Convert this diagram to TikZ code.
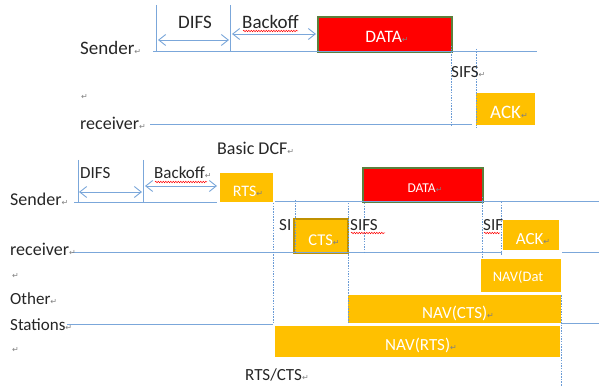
\documentclass[tikz,border=0pt]{standalone}
\usepackage{fontspec}
\setmainfont{Carlito}
\newfontfamily\pmfont{DejaVu Sans}
\usetikzlibrary{arrows.meta,decorations.pathmorphing}
\definecolor{tl}{HTML}{7BA7DA}
\definecolor{dotc}{HTML}{6A9BD6}
\definecolor{dred}{HTML}{FF0000}
\definecolor{dgreen}{HTML}{5A7F3C}
\definecolor{amber}{HTML}{FFC000}
\definecolor{amberdk}{HTML}{BF9000}
\definecolor{pmgray}{HTML}{808080}
\newcommand\fsz[1]{\fontsize{#1}{#1}\selectfont}
\newcommand\pmk{{\pmfont\fontsize{8}{8}\selectfont\textcolor{pmgray}{↵}}}
\tikzset{
  lbl/.style={inner sep=0pt, anchor=west, font=\fsz{18}, text=black!85},
  tline/.style={draw=tl, line width=1pt},
  dotl/.style={draw=dotc, line width=0.9pt, dash pattern=on 1.5pt off 1.2pt},
  dblarr/.style={draw=tl, line width=0.9pt, {Straight Barb[length=7pt,width=11pt]}-{Straight Barb[length=7pt,width=11pt]}},
  squig/.style={draw=red, line width=0.5pt, decorate, decoration={snake, amplitude=0.7pt, segment length=2.5pt}},
  redbox/.style={fill=dred, draw=dgreen, line width=1.2pt},
  ambox/.style={fill=amber, draw=none},
  btxt/.style={inner sep=0pt, text=white},
}
\begin{document}
\begin{tikzpicture}[x=1pt,y=-1pt]
\useasboundingbox (0,0) rectangle (599,387);
% ================= Basic DCF =================
% boxes
\fill[redbox] (318,17) rectangle (452,52);
\node[btxt, font=\fsz{17.5}] (tdata) at (387,37) {DATA\pmk};
\fill[ambox] (476,93) rectangle (535,125);
\node[btxt, font=\fsz{19}] (tack) at (509,112) {ACK\pmk};
% timelines
\draw[tline] (156,5) -- (156,52);
\draw[tline] (230,5) -- (230,52);
\draw[tline] (153,52) -- (537,52);
\draw[tline] (150,125) -- (472,125);
\draw[dblarr] (158,40) -- (229,40);
\draw[dblarr] (232,34) -- (316,34);
\draw[dotl] (451,46) -- (451,127);
\draw[dotl] (476,49) -- (476,128);
% labels
\node[lbl, font=\fsz{19}] (tdifs) at (178,22) {DIFS};
\node[lbl, font=\fsz{19}] (tback) at (242,22) {Backoff};
\draw[squig] (243,31) -- (298,31);
\node[lbl, font=\fsz{17}] (tsifs) at (451,72) {SIFS\pmk};
\node[lbl, font=\fsz{19}] (tsend) at (80,48) {Sender\pmk};
\node[lbl] (tpm) at (81,97) {\pmk};
\node[lbl] (trecv) at (80,123) {receiver\pmk};
\node[lbl] (tbasic) at (217,148) {Basic DCF\pmk};
% ================= RTS/CTS =================
\fill[ambox] (220,173) rectangle (273,202);
\node[btxt, font=\fsz{16}] (brts) at (248,191) {RTS\pmk};
\fill[redbox] (363,168) rectangle (483,202);
\node[btxt, font=\fsz{13.5}] (bdata) at (425,188) {DATA\pmk};
\fill[ambox, draw=amberdk, line width=1.4pt] (294,219) rectangle (348,253);
\node[btxt, font=\fsz{16.5}] (bcts) at (324,240) {CTS\pmk};
\fill[ambox] (503,220) rectangle (559,250);
\node[btxt, font=\fsz{17}] (back) at (533,239) {ACK\pmk};
\fill[ambox] (481,259) rectangle (561,292);
\node[btxt, font=\fsz{14.5}] (bnavd) at (518,277) {NAV(Dat};
\fill[ambox] (348,295) rectangle (561,323);
\node[btxt, font=\fsz{17}] (bnavc) at (458,313) {NAV(CTS)\pmk};
\fill[ambox] (275,326) rectangle (560,357);
\node[btxt, font=\fsz{17}] (bnavr) at (421,345) {NAV(RTS)\pmk};
% timelines
\draw[tline] (78,160) -- (78,203);
\draw[tline] (143,160) -- (143,203);
\draw[tline] (74,203) -- (217,203);
\draw[tline] (275,202) -- (599,202);
\draw[tline] (72,252) -- (502,252);
\draw[tline] (562,252) -- (599,252);
\draw[tline] (67,324) -- (273,324);
\draw[tline] (561,323) -- (599,323);
\draw[dblarr] (79,192) -- (142,192);
\draw[dblarr] (145,186) -- (217,186);
\draw[dotl] (273,203) -- (273,324);
\draw[dotl] (295,200) -- (295,253);
\draw[dotl] (348,203) -- (348,324);
\draw[dotl] (364,203) -- (364,253);
\draw[dotl] (482,197) -- (482,258);
\draw[dotl] (501,202) -- (501,256);
\draw[dotl] (561,295) -- (561,387);
% labels
\node[lbl, font=\fsz{17}] (bdifs) at (80,173) {DIFS};
\node[lbl, font=\fsz{17}] (bback) at (154,173) {Backoff\pmk};
\draw[squig] (155,182) -- (207,182);
\node[lbl, font=\fsz{17}] (bsi) at (279,225) {SI};
\node[lbl, font=\fsz{17}] (bsifs) at (350,225) {SIFS};
\draw[squig] (351,233) -- (385,233);
\node[lbl, font=\fsz{17}] (bsif) at (483,225) {SIF};
\draw[squig] (484,233) -- (500,233);
\node[lbl] (bsend) at (10,199) {Sender\pmk};
\node[lbl] (brecv) at (10,249) {receiver\pmk};
\node[lbl] (bpm1) at (12,276) {\pmk};
\node[lbl, font=\fsz{17}] (bother) at (10,299) {Other\pmk};
\node[lbl, font=\fsz{17}] (bstat) at (10,325) {Stations\pmk};
\node[lbl] (bpm2) at (12,350) {\pmk};
\node[lbl, font=\fsz{17}] (brtscts) at (245,375) {RTS/CTS\pmk};
\end{tikzpicture}
\end{document}
